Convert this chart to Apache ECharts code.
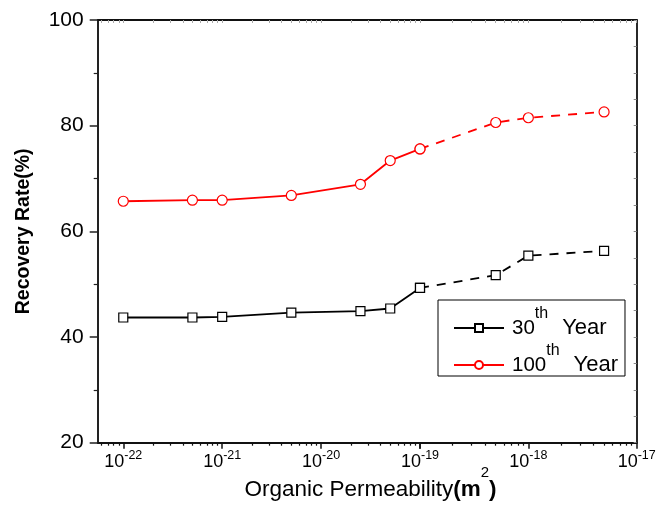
<!DOCTYPE html>
<html>
<head>
<meta charset="utf-8">
<script src="https://cdn.jsdelivr.net/npm/echarts@6/dist/echarts.min.js"></script>
<style>
  html, body { margin: 0; padding: 0; background: #ffffff; }
  #chart { width: 662px; height: 512px; }
</style>
</head>
<body>
<div id="chart"></div>
<script>
// Organic permeability (m^2) sampled in the simulations
const permeability = [1e-22, 5e-22, 1e-21, 5e-21, 2.5e-20, 5e-20, 1e-19, 5e-19, 1e-18, 5e-18];
// Recovery rate (%) after 30 and 100 years of production
const year30 = [43.7, 43.7, 43.8, 44.6, 44.9, 45.4, 49.3, 51.7, 55.4, 56.3];
const year100 = [65.7, 65.9, 65.9, 66.8, 68.9, 73.4, 75.6, 80.6, 81.5, 82.6];
const seriesNames = ['30th Year', '100th Year'];
// Lines are solid up to this permeability and dashed above it
const solidUpTo = 1e-19;
// Decade tick labels on the two halves of the permeability axis
const decadeTicksLow = [1e-22, 1e-21, 1e-20];
const decadeTicksHigh = [1e-19, 1e-18, 1e-17];
const yTicks = [20, 40, 60, 80, 100];

// ---- layout ----
const FONT = '"Liberation Sans", Arial, Helvetica, sans-serif';
const plotLeft = 97.7, plotSplit = 420, plotRight = 636.7;
const plotTop = 20, plotBottom = 442.7;
const lowMinExp = -22.2586;   // left edge of the lower segment (log10)

const xLowMin = Math.pow(10, lowMinExp), xLowMax = solidUpTo;
const xHighMin = solidUpTo, xHighMax = 1e-17;

function minorTicks(lo, hi) {
  const out = [];
  for (let e = -24; e <= -16; e++) {
    for (let m = 2; m <= 9; m++) {
      const v = m * Math.pow(10, e);
      if (v > lo * 1.0001 && v < hi * 0.9999) out.push(v);
    }
  }
  return out;
}
function decadesIn(lo, hi) {
  const out = [];
  for (let e = -24; e <= -16; e++) {
    const v = Math.pow(10, e);
    if (v >= lo * 0.9999 && v <= hi * 1.0001) out.push(v);
  }
  return out;
}
// Superscripts: a top-aligned token with a short box sits above the line centre.
const expLabel = v => '{b|10}{s|' + Math.round(Math.log10(v)) + '}';
const supRich = {
  b: { fontFamily: FONT, fontSize: 18, color: '#000', lineHeight: 20 },
  s: { fontFamily: FONT, fontSize: 12.5, color: '#000', lineHeight: 0, height: 8, verticalAlign: 'top' }
};

function pairs(xs, ys, from, to) {
  const out = [];
  for (let i = 0; i < xs.length; i++) {
    if (xs[i] >= from && xs[i] <= to) out.push([xs[i], ys[i]]);
  }
  return out;
}

const gridRect = (l, r) => ({ left: l, top: plotTop, width: r - l, height: plotBottom - plotTop });

function mainX(grid, lo, hi, labels) {
  return {
    type: 'log', logBase: 10, gridIndex: grid, min: lo, max: hi, position: 'bottom',
    axisLine: { show: true, lineStyle: { color: '#111', width: 1.8 } },
    axisTick: { show: true, length: 6, inside: false, customValues: decadesIn(lo, hi),
                lineStyle: { color: '#111', width: 1.5 } },
    axisLabel: { show: true, customValues: labels, margin: 9, formatter: expLabel,
                 rich: supRich, showMinLabel: true, showMaxLabel: true, hideOverlap: false },
    splitLine: { show: false }, minorTick: { show: false }, minorSplitLine: { show: false }
  };
}
function minorX(grid, lo, hi) {
  return {
    type: 'log', logBase: 10, gridIndex: grid, min: lo, max: hi, position: 'bottom',
    axisLine: { show: false },
    axisTick: { show: true, length: 3, inside: false, customValues: minorTicks(lo, hi),
                lineStyle: { color: '#111', width: 1.2 } },
    axisLabel: { show: false }, splitLine: { show: false }
  };
}
function topX(grid, lo, hi) {
  return {
    type: 'log', logBase: 10, gridIndex: grid, min: lo, max: hi, position: 'top',
    axisLine: { show: true, lineStyle: { color: '#111', width: 1.8 } },
    axisTick: { show: true, length: 3, inside: true,
                customValues: decadesIn(lo, hi).concat(minorTicks(lo, hi)),
                lineStyle: { color: '#aaa', width: 1 } },
    axisLabel: { show: false }, splitLine: { show: false }
  };
}
function hiddenY(grid) {
  return { type: 'value', gridIndex: grid, min: 20, max: 100, show: false };
}

const chart = echarts.init(document.getElementById('chart'), null, { renderer: 'canvas' });

const lineBase = (name, color, symbol, size, dashed) => ({
  name: name, type: 'line', smooth: false, symbol: symbol, symbolSize: size,
  showSymbol: true, animation: false, z: 3,
  lineStyle: { color: color, width: 1.8, type: dashed ? [9, 8] : 'solid' },
  itemStyle: { color: '#fff', borderColor: color, borderWidth: 1.2 },
  emphasis: { disabled: true }
});

const option = {
  backgroundColor: '#ffffff',
  animation: false,
  textStyle: { fontFamily: FONT },
  grid: [
    gridRect(plotLeft, plotSplit),   // 0: lower permeability segment
    gridRect(plotSplit, plotRight),  // 1: upper permeability segment
    gridRect(plotLeft, plotSplit),   // 2: minor ticks, lower
    gridRect(plotSplit, plotRight)   // 3: minor ticks, upper
  ].map(g => Object.assign(g, { containLabel: false, show: false })),
  xAxis: [
    mainX(0, xLowMin, xLowMax, decadeTicksLow),
    topX(0, xLowMin, xLowMax),
    mainX(1, xHighMin, xHighMax, decadeTicksHigh),
    topX(1, xHighMin, xHighMax),
    minorX(2, xLowMin, xLowMax),
    minorX(3, xHighMin, xHighMax)
  ],
  yAxis: [
    {
      type: 'value', gridIndex: 0, min: 20, max: 100, interval: 20, position: 'left',
      name: 'Recovery Rate(%)', nameLocation: 'middle', nameGap: 64, nameRotate: 90,
      nameTextStyle: { fontFamily: FONT, fontSize: 19.5, fontWeight: 'bold', color: '#000' },
      axisLine: { show: true, lineStyle: { color: '#222', width: 2 } },
      axisTick: { show: true, length: 8, inside: false, lineStyle: { color: '#222', width: 1.5 } },
      minorTick: { show: true, splitNumber: 2, length: 4, lineStyle: { color: '#222', width: 1.2 } },
      axisLabel: { show: true, customValues: yTicks, fontFamily: FONT, fontSize: 21, color: '#000', margin: 14 },
      splitLine: { show: false }
    },
    {
      type: 'value', gridIndex: 1, min: 20, max: 100, interval: 5, position: 'right',
      axisLine: { show: true, lineStyle: { color: '#111', width: 1.8 } },
      axisTick: { show: true, length: 3, inside: true, lineStyle: { color: '#888', width: 1 } },
      axisLabel: { show: false }, splitLine: { show: false }
    },
    hiddenY(2),
    hiddenY(3)
  ],
  legend: {
    show: true,
    data: seriesNames,
    orient: 'vertical',
    left: 438, top: 300,
    padding: [6, 7, 0, 15],
    itemGap: 4,
    itemWidth: 50, itemHeight: 10,
    borderColor: '#000', borderWidth: 1, borderRadius: 0,
    backgroundColor: '#fff',
    selectedMode: false,
    formatter: function (name) {
      const m = name.match(/^(\d+)(th)\s*(.*)$/);
      return '{n|' + m[1] + '}{s|' + m[2] + '}{y|' + m[3] + '}';
    },
    textStyle: {
      fontFamily: FONT, fontSize: 21, color: '#000',
      rich: {
        n: { fontFamily: FONT, fontSize: 20.5, color: '#000', lineHeight: 22, padding: [0, 0, 0, 3] },
        s: { fontFamily: FONT, fontSize: 16, color: '#000', lineHeight: 0, height: -6, verticalAlign: 'top' },
        y: { fontFamily: FONT, fontSize: 22, color: '#000', lineHeight: 22, padding: [0, 0, 0, 14] }
      }
    }
  },
  graphic: [
    {
      type: 'text', x: 370.5, y: 490, silent: true,
      style: {
        text: '{n|Organic Permeability}{k|(m}{s|2}{k|)}',
        align: 'center', verticalAlign: 'middle', textAlign: 'center', textVerticalAlign: 'middle',
        fill: '#000',
        rich: {
          n: { fontFamily: FONT, fontSize: 22.5, fill: '#000', lineHeight: 24 },
          k: { fontFamily: FONT, fontSize: 22.5, fontWeight: 'bold', fill: '#000', lineHeight: 24 },
          s: { fontFamily: FONT, fontSize: 15, fill: '#000', lineHeight: 0, height: -10, verticalAlign: 'top' }
        }
      }
    }
  ],
  series: [
    Object.assign(lineBase(seriesNames[0], '#000000', 'rect', 9, false),
      { xAxisIndex: 0, yAxisIndex: 0, data: pairs(permeability, year30, 0, solidUpTo) }),
    Object.assign(lineBase(seriesNames[0], '#000000', 'rect', 9, true),
      { xAxisIndex: 2, yAxisIndex: 1, data: pairs(permeability, year30, solidUpTo, 1) }),
    Object.assign(lineBase(seriesNames[1], '#ff0000', 'circle', 10, false),
      { xAxisIndex: 0, yAxisIndex: 0, data: pairs(permeability, year100, 0, solidUpTo) }),
    Object.assign(lineBase(seriesNames[1], '#ff0000', 'circle', 10, true),
      { xAxisIndex: 2, yAxisIndex: 1, data: pairs(permeability, year100, solidUpTo, 1) })
  ]
};

chart.setOption(option);
</script>
</body>
</html>
